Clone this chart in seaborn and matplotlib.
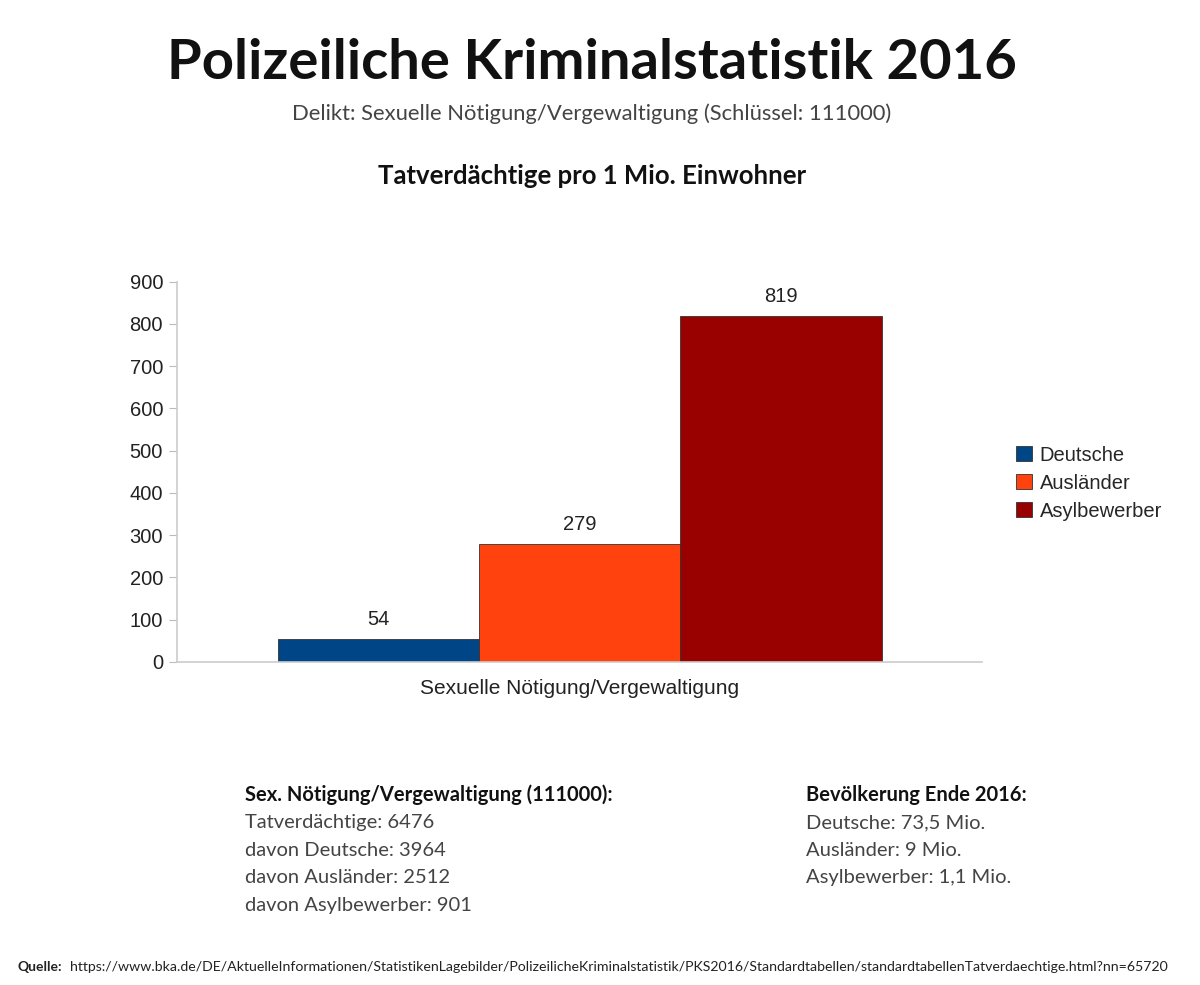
import pandas as pd
import seaborn as sns
import matplotlib.pyplot as plt

# Daten (Tatverdächtige pro 1 Mio. Einwohner)
delikt = "Sexuelle Nötigung/Vergewaltigung"
gruppen = ["Deutsche", "Ausländer", "Asylbewerber"]
werte = [54, 279, 819]
farben = ["#004586", "#ff420e", "#990000"]

df = pd.DataFrame({"Delikt": [delikt] * 3, "Gruppe": gruppen, "Wert": werte})

sns.set_style("white")
plt.rcParams["font.family"] = ["Liberation Sans", "DejaVu Sans"]
LATO = ["Lato", "DejaVu Sans"]

fig = plt.figure(figsize=(12, 9.85), dpi=100)
ax = fig.add_axes([0.1475, 0.328, 0.671, 0.386])

sns.barplot(data=df, x="Delikt", y="Wert", hue="Gruppe", palette=farben,
            width=0.75, edgecolor="#333333", linewidth=0.6, saturation=1, ax=ax)

for cont in ax.containers:
    ax.bar_label(cont, fmt="%d", padding=7, fontsize=14.5, color="#222222")

ax.set_xlim(-0.5, 0.5)
ax.set_ylim(0, 900)
ax.set_yticks(range(0, 901, 100))
ax.set_xlabel("")
ax.set_ylabel("")
ax.tick_params(axis="y", labelsize=14.5, colors="#bbbbbb", labelcolor="#222222",
               length=6, pad=4, left=True)
ax.tick_params(axis="x", labelsize=15, labelcolor="#222222", length=0, pad=12)
for s in ["top", "right"]:
    ax.spines[s].set_visible(False)
for s in ["left", "bottom"]:
    ax.spines[s].set_color("#cccccc")
    ax.spines[s].set_linewidth(1.2)

leg = ax.legend(loc="center left", bbox_to_anchor=(1.02, 0.47), frameon=False,
                fontsize=14.5, handlelength=0.75, handleheight=0.75, handletextpad=0.4,
                labelspacing=0.45)

# Titel
fig.text(0.493, 0.936, "Polizeiliche Kriminalstatistik 2016", ha="center", va="center",
         fontsize=40.5, fontweight="bold", family=LATO, color="#111111")
fig.text(0.493, 0.885, "Delikt: Sexuelle Nötigung/Vergewaltigung (Schlüssel: 111000)",
         ha="center", va="center", fontsize=15.8, family=LATO, color="#444444")
fig.text(0.493, 0.821, "Tatverdächtige pro 1 Mio. Einwohner", ha="center", va="center",
         fontsize=18.5, fontweight="bold", family=LATO, color="#111111")

# Textblöcke unten
links = ["Tatverdächtige: 6476", "davon Deutsche: 3964",
         "davon Ausländer: 2512", "davon Asylbewerber: 901"]
rechts = ["Deutsche: 73,5 Mio.", "Ausländer: 9 Mio.", "Asylbewerber: 1,1 Mio."]

y0 = 1 - 795 / 985
dy = 27.5 / 985
fig.text(0.204, y0, "Sex. Nötigung/Vergewaltigung (111000):", ha="left", va="center",
         fontsize=14.5, fontweight="bold", family=LATO, color="#111111")
for i, t in enumerate(links):
    fig.text(0.204, y0 - (i + 1) * dy, t, ha="left", va="center", fontsize=14.5,
             family=LATO, color="#444444")
fig.text(0.672, y0, "Bevölkerung Ende 2016:", ha="left", va="center",
         fontsize=14.5, fontweight="bold", family=LATO, color="#111111")
for i, t in enumerate(rechts):
    fig.text(0.672, y0 - (i + 1) * dy, t, ha="left", va="center", fontsize=14.5,
             family=LATO, color="#444444")

# Quelle
fig.text(0.015, 1 - 967 / 985, "Quelle:", ha="left", va="center", fontsize=10,
         fontweight="bold", family=LATO, color="#222222")
fig.text(0.058, 1 - 967 / 985,
         "https://www.bka.de/DE/AktuelleInformationen/StatistikenLagebilder/PolizeilicheKriminalstatistik/PKS2016/Standardtabellen/standardtabellenTatverdaechtige.html?nn=65720",
         ha="left", va="center", fontsize=10.2, family=LATO, color="#222222")

fig.savefig("out.png", dpi=100)
